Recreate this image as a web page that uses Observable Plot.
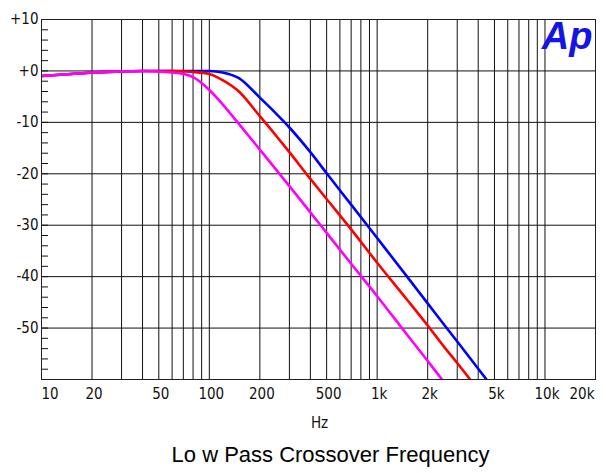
<!DOCTYPE html>
<html>
<head>
<meta charset="utf-8">
<script src="https://cdn.jsdelivr.net/npm/d3@7"></script>
<script src="https://cdn.jsdelivr.net/npm/@observablehq/plot@0.6"></script>
<style>
  html, body { margin: 0; padding: 0; background: #fff; }
  #chart svg { display: block; }
</style>
</head>
<body>
<div id="chart"></div>
<script>
// Frequencies (Hz) at which the response curves were read
const freqs = [10, 15, 20, 30, 40, 50, 60, 70, 80, 100, 120, 150, 200, 250, 300, 400, 500, 700, 1000, 1500, 2000, 2500, 3000, 4000, 5000];
// Response in dB for each crossover setting
const blueDb    = [-1.0, -0.6, -0.3, -0.1, 0, 0, 0, 0, 0, 0, -0.3, -1.4, -5.2, -8.3, -11.0, -15.8, -19.9, -26.0, -32.5, -39.9, -45.2, -49.3, -52.6, -57.9, -62.0];
const redDb     = [-1.0, -0.6, -0.3, -0.1, 0, 0, 0, -0.1, -0.2, -0.6, -1.8, -4.0, -8.8, -12.6, -15.8, -21.0, -24.9, -30.8, -37.3, -44.4, -49.5, -53.6, -56.8, -62.0, -66.0];
const magentaDb = [-1.0, -0.6, -0.3, -0.1, 0, -0.1, -0.3, -0.6, -1.2, -3.7, -6.5, -10.3, -15.3, -19.2, -22.4, -27.5, -31.5, -37.5, -43.8, -51.2, -56.4, -60.5, -64.0, -69.0, -73.0];

// Axis definitions
const xDomain = [10, 20000];
const yDomain = [-60, 10];
const xGrid = [10,20,30,40,50,60,70,80,90,100,200,300,400,500,600,700,800,900,1000,2000,3000,4000,5000,6000,7000,8000,9000,10000,20000];
const xTickValues = [20, 50, 100, 200, 500, 1000, 2000, 5000, 10000];
const xTickLabels = ["20", "50", "100", "200", "500", "1k", "2k", "5k", "10k"];
const xFirstTick = [10], xFirstLabel = ["10"];
const xLastTick = [20000], xLastLabel = ["20k"];
const yMajor = [-60, -50, -40, -30, -20, -10, 0, 10];
const yLabelTicks = [10, 0, -10, -20, -30, -40, -50];
const yLabelText = ["+10", "+0", "-10", "-20", "-30", "-40", "-50"];
const yMinor = d3.range(-58, 10, 2);

const seriesNames = ["blue", "red", "magenta"];
const seriesColors = ["#1c1cc4", "#d42418", "#e040e0"];
const seriesValues = [blueDb, redDb, magentaDb];

const rows = [];
seriesNames.forEach((name, i) => {
  freqs.forEach((f, j) => rows.push({series: name, f, db: seriesValues[i][j]}));
});

const labelFont = "'Liberation Sans Narrow', 'DejaVu Sans Condensed', 'Arial Narrow', sans-serif";
const fmt = (vals, labels) => (d) => labels[vals.indexOf(d)];

const chart = Plot.plot({
  width: 606,
  height: 473,
  marginTop: 19,
  marginRight: 11,
  marginBottom: 94,
  marginLeft: 41,
  style: {background: "#fff", fontFamily: labelFont, fontSize: "15px", color: "#111"},
  x: {type: "log", domain: xDomain, axis: null},
  y: {domain: yDomain, axis: null},
  color: {domain: seriesNames, range: seriesColors},
  marks: [
    Plot.ruleX(xGrid, {stroke: "#111", strokeWidth: 1}),
    Plot.ruleY(yMajor, {stroke: "#111", strokeWidth: 1}),
    Plot.axisY({ticks: yMinor, tickSize: -7, tickFormat: () => "", stroke: "#111", label: null}),
    Plot.axisY({ticks: yLabelTicks, tickSize: 0, tickPadding: 3, tickFormat: fmt(yLabelTicks, yLabelText), fontSize: 15, label: null}),
    Plot.text(xTickValues, {x: d => d, text: d => xTickLabels[xTickValues.indexOf(d)], frameAnchor: "bottom", dy: 19, dx: 2, fontSize: 15}),
    Plot.text(xFirstTick, {x: d => d, text: d => xFirstLabel[xFirstTick.indexOf(d)], frameAnchor: "bottom", dy: 19, dx: 0, textAnchor: "start", fontSize: 15}),
    Plot.text(xLastTick, {x: d => d, text: d => xLastLabel[xLastTick.indexOf(d)], frameAnchor: "bottom", dy: 19, dx: -1, textAnchor: "end", fontSize: 15}),
    Plot.lineY(rows, {x: "f", y: "db", z: "series", stroke: "series", strokeWidth: 2.6, curve: "monotone-x", clip: true}),
    Plot.frame({stroke: "#222"}),
    Plot.text(["Ap"], {frameAnchor: "top-right", dx: -3, dy: 3, textAnchor: "end", lineAnchor: "top", fontSize: 38, fontWeight: "bold", fontStyle: "italic", fontFamily: "'Liberation Sans', Arial, sans-serif", fill: "#1414e6"}),
    Plot.text(["Hz"], {frameAnchor: "bottom", dx: 1, dy: 48, fontSize: 15}),
    Plot.text(["Lo w Pass Crossover Frequency"], {frameAnchor: "bottom", dx: 12, dy: 82, fontSize: 22, fontFamily: "'Liberation Sans', Arial, sans-serif", fill: "#000"})
  ]
});
document.getElementById("chart").append(chart);
</script>
</body>
</html>
